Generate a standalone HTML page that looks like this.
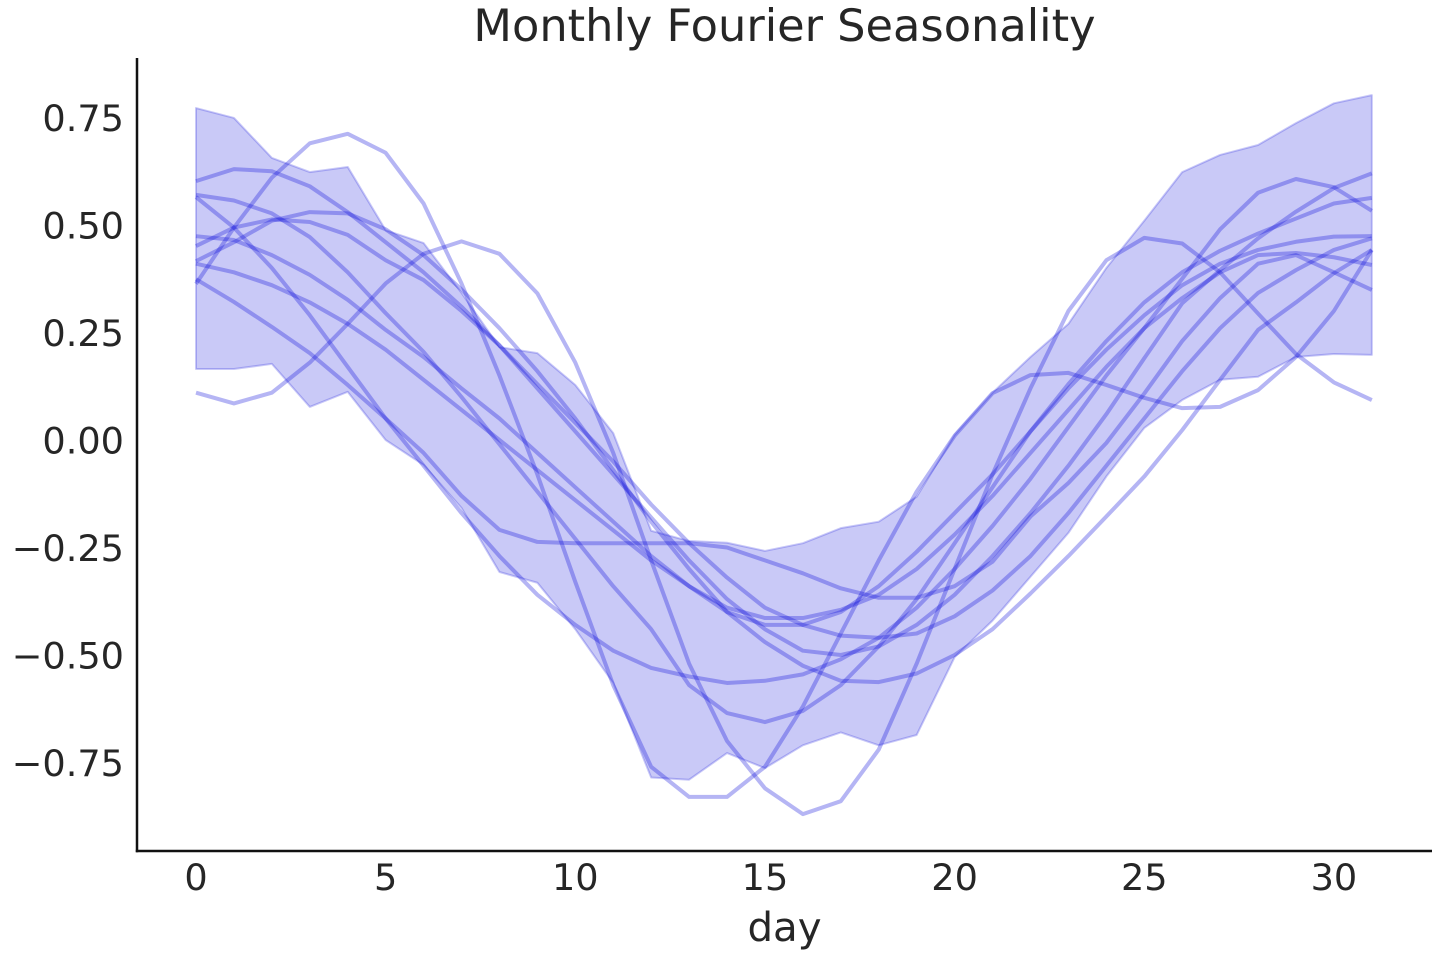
<!DOCTYPE html>
<html>
<head>
<meta charset="utf-8">
<style>
  html, body { margin: 0; padding: 0; background: #ffffff; }
  svg { display: block; }
  text { font-family: "DejaVu Sans", "Liberation Sans", sans-serif; fill: #262626; }
</style>
</head>
<body>
<svg width="1440" height="960" viewBox="0 0 1440 960" xmlns="http://www.w3.org/2000/svg">
  <rect x="0" y="0" width="1440" height="960" fill="#ffffff"/>

  <!-- Title -->
  <text x="784.5" y="41" font-size="44.7" text-anchor="middle">Monthly Fourier Seasonality</text>

  <!-- Data group: x = 196 + 37.93*day ; y = 440 - 430*v -->
  <g transform="translate(196 440) scale(37.93 -430)">
    <!-- band -->
    <polygon vector-effect="non-scaling-stroke"
      fill="rgb(10,10,220)" fill-opacity="0.22"
      stroke="rgb(10,10,220)" stroke-opacity="0.22" stroke-width="2" stroke-linejoin="round"
      points="0,.772 1,.749 2,.656 3,.623 4,.635 5,.488 6,.458 7,.342 8,.216 9,.202 10,.128 11,.016 12,-.211 13,-.235 14,-.239 15,-.258 16,-.24 17,-.205 18,-.19 19,-.132 20,.012 21,.11 22,.193 23,.27 24,.40 25,.51 26,.623 27,.663 28,.686 29,.737 30,.783 31,.802
              31,.198 30,.20 29,.193 28,.147 27,.14 26,.093 25,.028 24,-.085 23,-.216 22,-.318 21,-.42 20,-.505 19,-.686 18,-.71 17,-.68 16,-.71 15,-.763 14,-.728 13,-.79 12,-.785 11,-.565 10,-.44 9,-.332 8,-.307 7,-.158 6,-.058 5,0 4,.112 3,.077 2,.177 1,.165 0,.165"/>

    <g fill="none" stroke="rgb(10,10,220)" stroke-opacity="0.3" stroke-width="4" stroke-linejoin="round" stroke-linecap="butt">
      <!-- H -->
      <polyline vector-effect="non-scaling-stroke" points="0,.11 1,.085 2,.11 3,.18 4,.27 5,.364 6,.433 7,.462 8,.433 9,.341 10,.18 11,-.03 12,-.28 13,-.52 14,-.70 15,-.81 16,-.87 17,-.84 18,-.72 19,-.52 20,-.30 21,-.08 22,.12 23,.30 24,.418 25,.47 26,.457 27,.39 28,.294 29,.20 30,.134 31,.093"/>
      <!-- H2 -->
      <polyline vector-effect="non-scaling-stroke" points="0,.363 1,.494 2,.61 3,.69 4,.712 5,.668 6,.55 7,.364 8,.15 9,-.08 10,-.33 11,-.57 12,-.76 13,-.83 14,-.83 15,-.76 16,-.62 17,-.45 18,-.28 19,-.12 20,.01 21,.109 22,.151 23,.156 24,.128 25,.098 26,.074 27,.077 28,.116 29,.193 30,.30 31,.442"/>
      <!-- L1 -->
      <polyline vector-effect="non-scaling-stroke" points="0,.602 1,.63 2,.625 3,.59 4,.53 5,.46 6,.39 7,.31 8,.22 9,.12 10,.02 11,-.08 12,-.18 13,-.28 14,-.37 15,-.44 16,-.49 17,-.50 18,-.48 19,-.43 20,-.36 21,-.27 22,-.17 23,-.06 24,.06 25,.19 26,.318 27,.395 28,.469 29,.531 30,.586 31,.62"/>
      <!-- L2 -->
      <polyline vector-effect="non-scaling-stroke" points="0,.57 1,.557 2,.527 3,.472 4,.39 5,.295 6,.205 7,.10 8,-.01 9,-.12 10,-.23 11,-.34 12,-.44 13,-.57 14,-.635 15,-.656 16,-.63 17,-.57 18,-.48 19,-.37 20,-.24 21,-.11 22,.02 23,.13 24,.23 25,.32 26,.39 27,.44 28,.48 29,.515 30,.55 31,.563"/>
      <!-- L3 -->
      <polyline vector-effect="non-scaling-stroke" points="0,.565 1,.494 2,.40 3,.29 4,.17 5,.05 6,-.06 7,-.17 8,-.27 9,-.36 10,-.43 11,-.49 12,-.53 13,-.55 14,-.565 15,-.56 16,-.545 17,-.51 18,-.46 19,-.39 20,-.30 21,-.20 22,-.09 23,.03 24,.15 25,.26 26,.375 27,.49 28,.575 29,.607 30,.588 31,.533"/>
      <!-- L4 -->
      <polyline vector-effect="non-scaling-stroke" points="0,.474 1,.465 2,.43 3,.384 4,.326 5,.256 6,.193 7,.12 8,.05 9,-.03 10,-.11 11,-.19 12,-.27 13,-.34 14,-.40 15,-.43 16,-.43 17,-.40 18,-.34 19,-.26 20,-.17 21,-.08 22,.02 23,.12 24,.21 25,.29 26,.36 27,.41 28,.442 29,.461 30,.473 31,.474"/>
      <!-- L5 -->
      <polyline vector-effect="non-scaling-stroke" points="0,.451 1,.494 2,.513 3,.507 4,.477 5,.418 6,.372 7,.30 8,.22 9,.13 10,.04 11,-.05 12,-.15 13,-.24 14,-.32 15,-.39 16,-.43 17,-.455 18,-.46 19,-.45 20,-.41 21,-.35 22,-.27 23,-.17 24,-.06 25,.05 26,.16 27,.26 28,.342 29,.395 30,.442 31,.469"/>
      <!-- L6 -->
      <polyline vector-effect="non-scaling-stroke" points="0,.416 1,.46 2,.51 3,.53 4,.527 5,.49 6,.43 7,.35 8,.26 9,.16 10,.05 11,-.07 12,-.19 13,-.30 14,-.40 15,-.47 16,-.525 17,-.56 18,-.563 19,-.543 20,-.50 21,-.44 22,-.357 23,-.27 24,-.178 25,-.085 26,.023 27,.14 28,.256 29,.32 30,.388 31,.442"/>
      <!-- L7 -->
      <polyline vector-effect="non-scaling-stroke" points="0,.41 1,.39 2,.36 3,.32 4,.27 5,.21 6,.14 7,.07 8,0 9,-.07 10,-.14 11,-.21 12,-.28 13,-.34 14,-.39 15,-.414 16,-.414 17,-.395 18,-.36 19,-.30 20,-.22 21,-.13 22,-.03 23,.07 24,.17 25,.26 26,.33 27,.39 28,.43 29,.435 30,.425 31,.407"/>
      <!-- L8 -->
      <polyline vector-effect="non-scaling-stroke" points="0,.374 1,.321 2,.263 3,.202 4,.128 5,.05 6,-.03 7,-.13 8,-.209 9,-.237 10,-.24 11,-.24 12,-.24 13,-.24 14,-.25 15,-.28 16,-.31 17,-.345 18,-.367 19,-.367 20,-.34 21,-.283 22,-.178 23,-.10 24,-.007 25,.108 26,.23 27,.33 28,.41 29,.43 30,.39 31,.349"/>
    </g>
  </g>

  <!-- Spines -->
  <line x1="137" y1="58" x2="137" y2="852.2" stroke="#111111" stroke-width="2.5"/>
  <line x1="135.8" y1="851" x2="1432" y2="851" stroke="#111111" stroke-width="2.5"/>

  <!-- Y tick labels -->
  <g font-size="36.67" text-anchor="end">
    <text x="124" y="131">0.75</text>
    <text x="124" y="238.5">0.50</text>
    <text x="124" y="346">0.25</text>
    <text x="124" y="453.5">0.00</text>
    <text x="124" y="561">−0.25</text>
    <text x="124" y="668.5">−0.50</text>
    <text x="124" y="776">−0.75</text>
  </g>

  <!-- X tick labels -->
  <g font-size="36.67" text-anchor="middle">
    <text x="196" y="890">0</text>
    <text x="385.7" y="890">5</text>
    <text x="575.3" y="890">10</text>
    <text x="765" y="890">15</text>
    <text x="954.6" y="890">20</text>
    <text x="1144.3" y="890">25</text>
    <text x="1333.9" y="890">30</text>
  </g>

  <!-- X label -->
  <text x="784.5" y="941" font-size="40.3" text-anchor="middle">day</text>
</svg>
</body>
</html>
